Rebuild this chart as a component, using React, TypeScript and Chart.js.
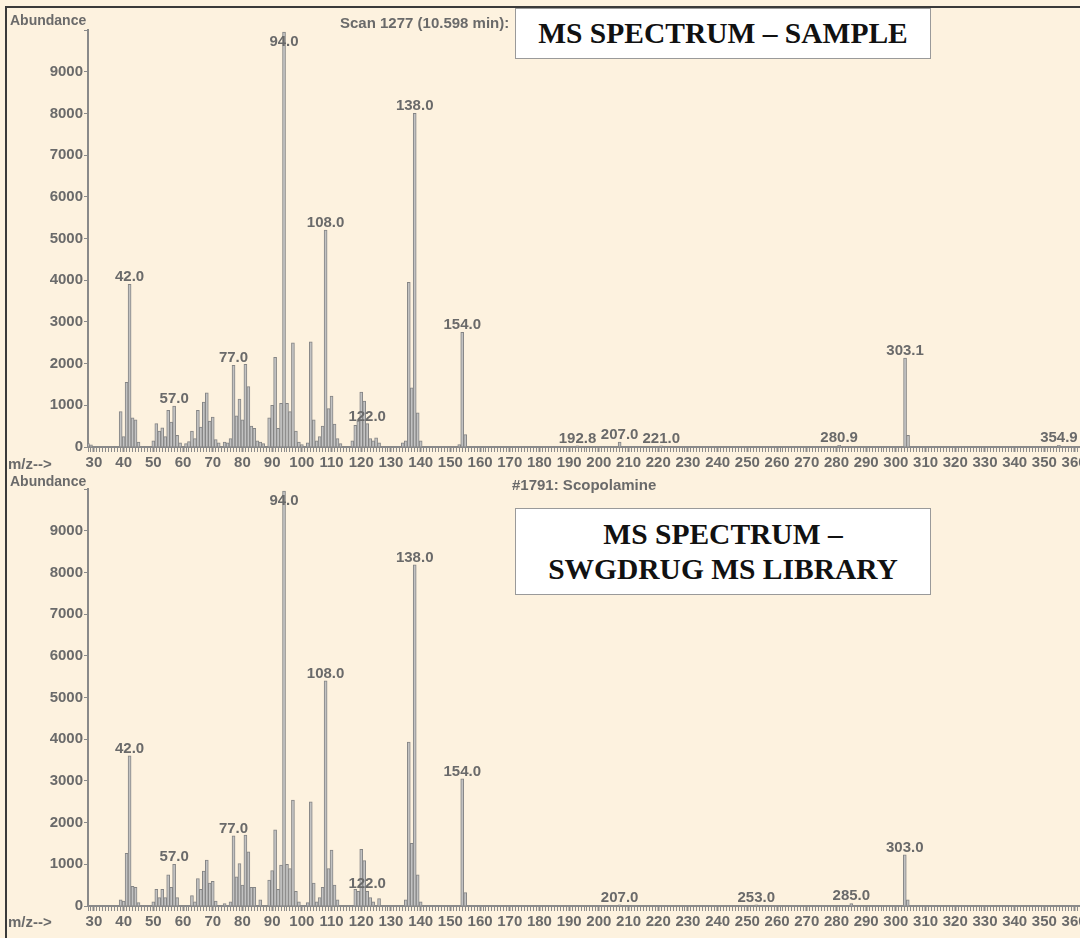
import React, { useEffect, useRef } from "react";
import { Chart, registerables } from "chart.js";

Chart.register(...registerables);

// ---- Sample spectrum (Scan 1277) ----
const sampleMz = [
  27, 28, 29, 39, 40, 41, 42, 43, 44, 45, 50, 51, 52, 53, 54, 55, 56, 57, 58, 59, 61, 62, 63, 64, 65, 66, 67, 68, 69, 70, 71, 72,
  74, 75, 76, 77, 78, 79, 80, 81, 82, 83, 84, 85, 86, 87, 89, 90, 91, 92, 93, 94, 95, 96, 97, 98, 99, 100, 102, 103, 104, 105,
  106, 107, 108, 109, 110, 111, 112, 113, 117, 118, 119, 120, 121, 122, 123, 124, 125, 126, 134, 135, 136, 137, 138, 139, 140,
  153, 154, 155, 192.8, 207, 221, 280.9, 303.1, 304.1, 354.9,
];
const sampleAbundance = [
  60, 80, 50, 850, 250, 1550, 3900, 700, 650, 120, 150, 560, 380, 460, 250, 880, 600, 980, 280, 100, 80, 130, 380, 200, 880, 480,
  1080, 1300, 620, 720, 180, 100, 120, 100, 200, 1960, 750, 1150, 650, 1980, 1450, 500, 450, 150, 120, 80, 700, 1000, 2150, 450,
  1050, 9950, 1050, 850, 2500, 380, 120, 60, 100, 2520, 650, 150, 250, 500, 5200, 920, 1220, 550, 200, 80, 150, 520, 620, 1320,
  1100, 560, 200, 150, 220, 100, 100, 150, 3950, 1420, 8000, 820, 150, 60, 2750, 300, 30, 120, 30, 40, 2130, 280, 40,
];
const sampleLabelMz = [42, 57, 77, 94, 108, 122, 138, 154, 192.8, 207, 221, 280.9, 303.1, 354.9];

// ---- Library spectrum (#1791: Scopolamine) ----
const libraryMz = [
  39, 40, 41, 42, 43, 44, 45, 50, 51, 52, 53, 54, 55, 56, 57, 58, 63, 64, 65, 66, 67, 68, 69, 70, 71, 74, 76, 77, 78, 79, 80, 81,
  82, 83, 84, 86, 89, 90, 91, 92, 93, 94, 95, 96, 97, 98, 99, 102, 103, 104, 105, 106, 107, 108, 109, 110, 111, 112, 118, 119,
  120, 121, 122, 123, 124, 126, 135, 136, 137, 138, 139, 140, 154, 155, 207, 253, 285, 303, 304,
];
const libraryAbundance = [
  150, 120, 1265, 3600, 470, 450, 80, 100, 400, 200, 400, 200, 750, 450, 1000, 200, 250, 100, 660, 400, 840, 1100, 550, 590, 120,
  60, 100, 1680, 700, 1020, 500, 1700, 1300, 450, 450, 150, 620, 850, 1825, 400, 980, 9950, 1000, 900, 2540, 350, 100, 80, 2500,
  550, 100, 200, 450, 5400, 900, 1340, 500, 150, 400, 350, 1360, 1090, 350, 200, 100, 180, 150, 3930, 1500, 8180, 750, 100, 3050,
  320, 30, 30, 60, 1230, 150,
];
const libraryLabelMz = [42, 57, 77, 94, 108, 122, 138, 154, 207, 253, 285, 303];

// ---- Axes ----
const X_MIN = 28;
const X_MAX = 362;
const Y_MAX = 10000;
const Y_STEP = 1000;

const BG = "#fdf2df";
const TEXT = "#6a6a6a";
const AXIS = "#8a8a8a";
const FONT = '"Liberation Sans", Arial, sans-serif';

function peakLabelPlugin(mz: number[], ab: number[], labelMz: number[]) {
  return {
    id: "peakLabels",
    afterDatasetsDraw(chart: any) {
      const { ctx, chartArea, scales } = chart;
      ctx.save();
      ctx.font = `bold 15px ${FONT}`;
      ctx.fillStyle = TEXT;
      ctx.textAlign = "center";
      ctx.textBaseline = "alphabetic";
      for (const m of labelMz) {
        const i = mz.indexOf(m);
        const v = i >= 0 ? ab[i] : 0;
        const x = scales.x.getPixelForValue(m);
        let y = scales.y.getPixelForValue(v) - 3;
        y = Math.max(y, chartArea.top + 16);
        ctx.fillText(m.toFixed(1), x, y);
      }
      ctx.restore();
    },
  };
}

function makeChart(
  canvas: HTMLCanvasElement,
  mz: number[],
  ab: number[],
  labelMz: number[],
  padTop: number,
  axisHeight: number
) {
  return new Chart(canvas, {
    type: "bar",
    data: {
      datasets: [
        {
          data: mz.map((m, i) => ({ x: m, y: ab[i] })),
          backgroundColor: "#c2c2c2",
          borderColor: "#858585",
          borderWidth: 1,
          barThickness: 3,
        } as any,
      ],
    },
    options: {
      animation: false,
      responsive: false,
      devicePixelRatio: 1,
      layout: { padding: { top: padTop, right: 20, left: 0, bottom: 0 } },
      plugins: { legend: { display: false }, tooltip: { enabled: false } },
      scales: {
        x: {
          type: "linear",
          min: X_MIN,
          max: X_MAX,
          offset: false,
          grid: {
            drawOnChartArea: false,
            drawTicks: true,
            tickLength: 5,
            tickColor: AXIS,
            tickWidth: (c: any) => (c.tick && c.tick.value % 10 === 0 ? 2 : 1),
            offset: false,
          } as any,
          border: { color: AXIS, width: 2 },
          ticks: {
            stepSize: 1,
            autoSkip: false,
            maxRotation: 0,
            minRotation: 0,
            padding: 2,
            color: TEXT,
            font: { family: FONT, size: 15, weight: "bold" },
            callback: (v: any) => (Number(v) % 10 === 0 ? String(v) : ""),
          },
          afterFit: (s: any) => {
            s.height = axisHeight;
          },
        } as any,
        y: {
          min: 0,
          max: Y_MAX,
          grid: { drawOnChartArea: false, tickLength: 4, tickColor: AXIS },
          border: { color: AXIS, width: 2 },
          ticks: {
            stepSize: Y_STEP,
            padding: 1,
            color: TEXT,
            font: { family: FONT, size: 15, weight: "bold" },
            callback: (v: any) => (Number(v) >= Y_MAX ? "" : String(v)),
          },
          afterFit: (s: any) => {
            s.width = 88;
          },
        } as any,
      },
    },
    plugins: [peakLabelPlugin(mz, ab, labelMz)],
  });
}

const smallText: React.CSSProperties = {
  position: "absolute",
  fontFamily: FONT,
  fontWeight: "bold",
  color: TEXT,
  fontSize: 14,
  whiteSpace: "nowrap",
  lineHeight: "15px",
};

const titleBox: React.CSSProperties = {
  position: "absolute",
  left: 515,
  width: 416,
  background: "#ffffff",
  border: "1px solid #9a9a9a",
  fontFamily: '"Liberation Serif", "Times New Roman", serif',
  fontWeight: "bold",
  fontSize: 29.5,
  color: "#111",
  textAlign: "center",
  display: "flex",
  flexDirection: "column",
  justifyContent: "center",
  boxSizing: "border-box",
};

export default function App() {
  const topRef = useRef<HTMLCanvasElement>(null);
  const botRef = useRef<HTMLCanvasElement>(null);

  useEffect(() => {
    const c1 = makeChart(topRef.current!, sampleMz, sampleAbundance, sampleLabelMz, 30, 33);
    const c2 = makeChart(botRef.current!, libraryMz, libraryAbundance, libraryLabelMz, 19, 32);
    return () => {
      c1.destroy();
      c2.destroy();
    };
  }, []);

  return (
    <div
      style={{
        position: "absolute",
        left: 0,
        top: 0,
        width: 1080,
        height: 938,
        overflow: "hidden",
        background: BG,
      }}
    >
      <div style={{ position: "absolute", left: 6, top: 6, width: 1074, height: 2, background: "#3a3a3a" }} />
      <div style={{ position: "absolute", left: 5, top: 6, width: 2, height: 932, background: "#3a3a3a" }} />

      <canvas ref={topRef} width={1100} height={480} style={{ position: "absolute", left: 0, top: 0 }} />
      <canvas ref={botRef} width={1100} height={468} style={{ position: "absolute", left: 0, top: 470 }} />

      <div style={{ ...smallText, left: 10, top: 13 }}>Abundance</div>
      <div style={{ ...smallText, left: 340, top: 15, fontSize: 15 }}>Scan 1277 (10.598 min):</div>
      <div style={{ ...smallText, left: 8, top: 456, fontSize: 15 }}>m/z--&gt;</div>

      <div style={{ ...smallText, left: 10, top: 474 }}>Abundance</div>
      <div style={{ ...smallText, left: 512, top: 477, fontSize: 15 }}>#1791: Scopolamine</div>
      <div style={{ ...smallText, left: 8, top: 914, fontSize: 15 }}>m/z--&gt;</div>

      <div style={{ ...titleBox, top: 8, height: 51 }}>
        <div>MS SPECTRUM – SAMPLE</div>
      </div>
      <div style={{ ...titleBox, top: 508, height: 87, lineHeight: "35px" }}>
        <div>MS SPECTRUM –</div>
        <div>SWGDRUG MS LIBRARY</div>
      </div>
    </div>
  );
}
